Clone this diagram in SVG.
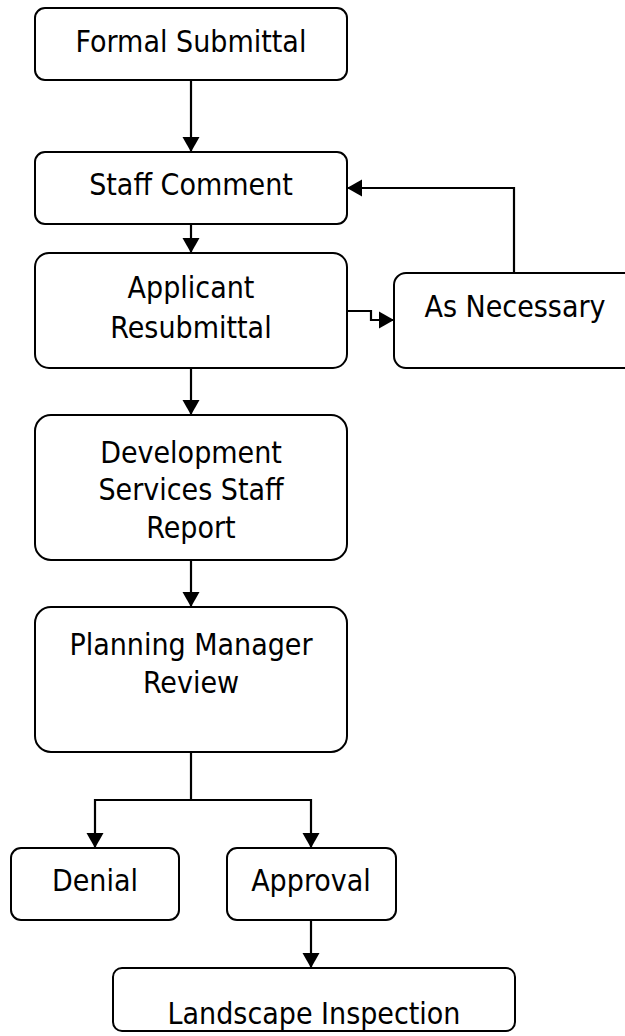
<svg xmlns="http://www.w3.org/2000/svg" width="625" height="1036" viewBox="0 0 625 1036">
<style>
.box{fill:#fff;stroke:#000;stroke-width:2}
.t{font-family:"DejaVu Sans Condensed","DejaVu Sans",Verdana,sans-serif;font-stretch:condensed;font-size:30px;fill:#000;text-anchor:middle}
.c{fill:none;stroke:#000;stroke-width:2.2}
</style>
<defs>
<marker id="ah" markerUnits="userSpaceOnUse" markerWidth="16" markerHeight="18" viewBox="0 0 16 18" refX="15" refY="9" orient="auto">
<path d="M0,0.5 L15,9 L0,17.5 Z" fill="#000"/>
</marker>
</defs>
<rect width="625" height="1036" fill="#fff"/>
<g id="connectors">
<path class="c" d="M191,80 V152" marker-end="url(#ah)"/>
<path class="c" d="M191,224 V253" marker-end="url(#ah)"/>
<path class="c" d="M191,368 V415" marker-end="url(#ah)"/>
<path class="c" d="M191,560 V607" marker-end="url(#ah)"/>
<path class="c" d="M191,752 V800 H95 V848" marker-end="url(#ah)"/>
<path class="c" d="M191,800 H311 V848" marker-end="url(#ah)"/>
<path class="c" d="M311,920 V968" marker-end="url(#ah)"/>
<path class="c" d="M347,311 H371 V320 H394" marker-end="url(#ah)"/>
<path class="c" d="M514,273 V188 H347" marker-end="url(#ah)"/>
</g>
<g id="formal-submittal">
<rect class="box" x="35" y="8" width="312" height="72" rx="10"/>
<text class="t" x="191" y="52">Formal Submittal</text>
</g>
<g id="staff-comment">
<rect class="box" x="35" y="152" width="312" height="72" rx="10"/>
<text class="t" x="191" y="195">Staff Comment</text>
</g>
<g id="applicant-resubmittal">
<rect class="box" x="35" y="253" width="312" height="115" rx="14"/>
<text class="t" x="191" y="298">Applicant</text>
<text class="t" x="191" y="338">Resubmittal</text>
</g>
<g id="as-necessary">
<rect class="box" x="394" y="273" width="260" height="95" rx="12"/>
<text class="t" x="515" y="317">As Necessary</text>
</g>
<g id="development-services">
<rect class="box" x="35" y="415" width="312" height="145" rx="16"/>
<text class="t" x="191" y="463">Development</text>
<text class="t" x="191" y="500">Services Staff</text>
<text class="t" x="191" y="538">Report</text>
</g>
<g id="planning-manager">
<rect class="box" x="35" y="607" width="312" height="145" rx="16"/>
<text class="t" x="191" y="655">Planning Manager</text>
<text class="t" x="191" y="693">Review</text>
</g>
<g id="denial">
<rect class="box" x="11" y="848" width="168" height="72" rx="10"/>
<text class="t" x="95" y="891">Denial</text>
</g>
<g id="approval">
<rect class="box" x="227" y="848" width="169" height="72" rx="10"/>
<text class="t" x="311" y="891">Approval</text>
</g>
<g id="landscape-inspection">
<rect class="box" x="113" y="968" width="402" height="63" rx="9"/>
<text class="t" x="314" y="1024">Landscape Inspection</text>
</g>
</svg>
